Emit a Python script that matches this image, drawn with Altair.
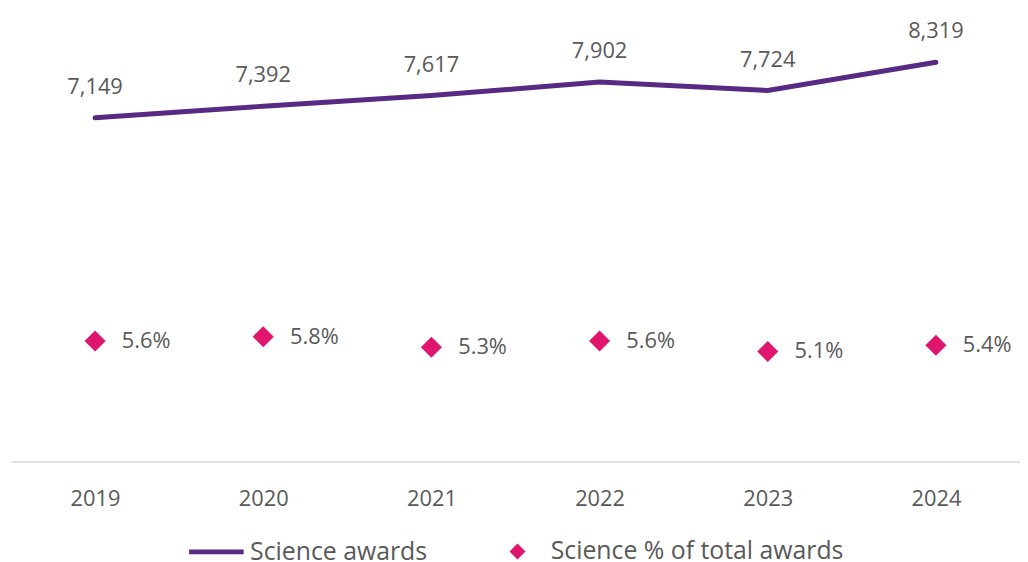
import altair as alt
import pandas as pd

years = ["2019", "2020", "2021", "2022", "2023", "2024"]
awards = [7149, 7392, 7617, 7902, 7724, 8319]
pct = [0.056, 0.058, 0.053, 0.056, 0.051, 0.054]

df = pd.DataFrame({"year": years, "awards": awards, "pct": pct})

FONT = "Open Sans"
TXT = "#595959"
PURPLE = "#582A84"
PINK = "#E0166E"

x = alt.X("year:O", title=None,
          scale=alt.Scale(paddingInner=0, paddingOuter=0),
          axis=alt.Axis(labelAngle=0, ticks=False, labelPadding=27, offset=5,
                        domainColor="#D9D9D9", domainWidth=1.5,
                        labelFontSize=22, labelColor=TXT, labelFont=FONT))

base = alt.Chart(df)

line = base.mark_line(strokeWidth=5, strokeCap="round").encode(
    x=x,
    y=alt.Y("awards:Q", scale=alt.Scale(domain=[0, 9000]), axis=None),
    color=alt.Color("s:N", scale=alt.Scale(domain=["Science awards"], range=[PURPLE]),
                    legend=alt.Legend(title=None, orient="none", legendX=177, legendY=496,
                                      symbolType="stroke", symbolSize=3025, symbolStrokeWidth=5,
                                      labelFontSize=25, labelFont=FONT, labelColor=TXT,
                                      labelOffset=4, labelLimit=400, padding=0)),
).transform_calculate(s="'Science awards'")

line_lbl = base.mark_text(dy=-31, fontSize=22, font=FONT, color=TXT).encode(
    x=x,
    y=alt.Y("awards:Q", scale=alt.Scale(domain=[0, 9000]), axis=None),
    text=alt.Text("awards:Q", format=","),
)

pts = base.mark_point(filled=True, opacity=1, size=450, color=PINK).encode(
    x=x,
    y=alt.Y("pct:Q", scale=alt.Scale(domain=[0.0015, 0.2024]), axis=None),
    shape=alt.Shape("t:N", scale=alt.Scale(domain=["Science % of total awards"], range=["diamond"]),
                    legend=alt.Legend(title=None, orient="none", legendX=498, legendY=513,
                                      symbolSize=260, symbolFillColor=PINK, symbolStrokeWidth=0,
                                      labelFontSize=25, labelFont=FONT, labelColor=TXT,
                                      labelOffset=21, labelLimit=400, padding=0)),
).transform_calculate(t="'Science % of total awards'")

pts_lbl = base.mark_text(dx=27, align="left", fontSize=22, font=FONT, color=TXT).encode(
    x=x,
    y=alt.Y("pct:Q", scale=alt.Scale(domain=[0.0015, 0.2024]), axis=None),
    text=alt.Text("pct:Q", format=".1%"),
)

left = alt.layer(line, line_lbl)
right = alt.layer(pts, pts_lbl)

chart = alt.layer(left, right).resolve_scale(y="independent", color="independent", shape="independent").properties(
    width=1017, height=430,
    autosize=alt.AutoSizeParams(type="none"),
    padding={"left": 3, "top": 20, "right": 0, "bottom": 104},
).configure_view(stroke=None)

chart.save("out.html", embed_options={"renderer": "svg", "actions": False})
